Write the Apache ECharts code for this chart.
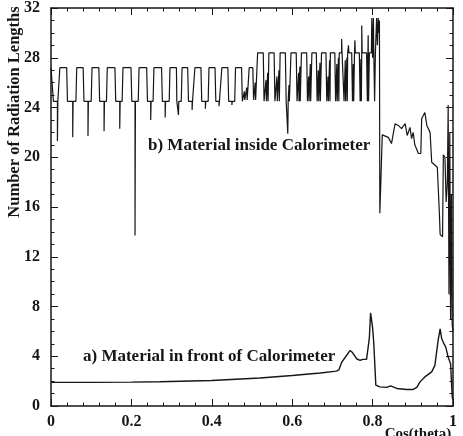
<!DOCTYPE html>
<html>
<head>
<meta charset="utf-8">
<script src="https://cdn.jsdelivr.net/npm/echarts@6/dist/echarts.min.js"></script>
<style>
  html, body { margin: 0; padding: 0; background: #fff; }
  #chart { width: 463px; height: 436px; }
</style>
</head>
<body>
<div id="chart"></div>
<script>
// tick labels
const xTickLabels = ['0', '0.2', '0.4', '0.6', '0.8', '1']
const yTickLabels = ['0', '4', '8', '12', '16', '20', '24', '28', '32']

// a) material in front of calorimeter  [cos(theta), X0]
const frontMaterial = [
  [0, 1.9], [0.1, 1.9], [0.2, 1.92], [0.27, 1.95], [0.4, 2.05], [0.52, 2.25],
  [0.6, 2.45], [0.67, 2.65], [0.71, 2.8], [0.716, 2.9], [0.723, 3.5], [0.736, 4.1],
  [0.744, 4.47], [0.750, 4.3], [0.760, 3.8], [0.769, 3.67], [0.775, 3.75], [0.779, 3.6],
  [0.785, 3.75], [0.789, 3.7], [0.792, 5.5], [0.795, 7.5], [0.800, 6.3], [0.803, 5.0],
  [0.808, 1.68], [0.818, 1.54], [0.835, 1.5], [0.845, 1.62], [0.860, 1.41], [0.885, 1.33],
  [0.901, 1.33], [0.910, 1.5], [0.918, 1.94], [0.930, 2.34], [0.947, 2.74], [0.955, 3.27],
  [0.963, 5.27], [0.968, 6.2], [0.972, 5.4], [0.976, 5.1], [0.982, 4.73], [0.988, 3.93],
  [0.994, 3.4], [0.998, 0.74], [1.0, 0.48]
]

// b) material inside calorimeter  [cos(theta), X0]
const insideMaterial = [
  [0.000, 27.2], [0.004, 27.2], [0.006, 24.5],
  [0.016, 24.5], [0.016, 21.3], [0.017, 24.5],
  [0.021, 24.5], [0.022, 27.2], [0.039, 27.2], [0.041, 24.5],
  [0.054, 24.5], [0.054, 21.6], [0.055, 24.5],
  [0.062, 24.5], [0.064, 27.2], [0.080, 27.2], [0.082, 24.5],
  [0.092, 24.5], [0.092, 21.7], [0.093, 24.5],
  [0.100, 24.5], [0.102, 27.2], [0.119, 27.2], [0.121, 24.5],
  [0.132, 24.5], [0.132, 22.1], [0.133, 24.5],
  [0.138, 24.5], [0.140, 27.2], [0.159, 27.2], [0.161, 24.5],
  [0.171, 24.5], [0.171, 22.3], [0.172, 24.5],
  [0.177, 24.5], [0.179, 27.2], [0.199, 27.2], [0.201, 24.5],
  [0.209, 24.5], [0.209, 13.7], [0.210, 24.5],
  [0.217, 24.5], [0.219, 27.2], [0.238, 27.2], [0.240, 24.5],
  [0.248, 24.5], [0.248, 23.0], [0.249, 24.5],
  [0.254, 24.5], [0.256, 27.2], [0.275, 27.2], [0.277, 24.5],
  [0.284, 24.5], [0.284, 23.2], [0.285, 24.5],
  [0.294, 24.5], [0.296, 27.2], [0.312, 27.2], [0.313, 24.5],
  [0.317, 24.5], [0.317, 23.4], [0.318, 24.5],
  [0.324, 24.5], [0.326, 27.2], [0.340, 27.2], [0.342, 24.5],
  [0.351, 24.5], [0.351, 23.8], [0.352, 24.5],
  [0.356, 24.5], [0.358, 27.2], [0.373, 27.2], [0.375, 24.5],
  [0.384, 24.5], [0.384, 23.9], [0.385, 24.5],
  [0.391, 24.5], [0.393, 27.2], [0.408, 27.2], [0.410, 24.5],
  [0.418, 24.5], [0.418, 24.1], [0.419, 24.5],
  [0.423, 24.5], [0.425, 27.2], [0.440, 27.2], [0.442, 24.5],
  [0.450, 24.5], [0.450, 24.2], [0.451, 24.5],
  [0.457, 24.5], [0.459, 27.2], [0.474, 27.2], [0.476, 24.5],
  [0.480, 24.5], [0.481, 25.3], [0.482, 24.6], [0.486, 24.6], [0.487, 25.6], [0.488, 24.6],
  [0.491, 24.6], [0.493, 27.2], [0.502, 27.2], [0.504, 24.6],
  [0.507, 24.6], [0.508, 26.0], [0.509, 24.6],
  [0.512, 24.5], [0.514, 28.4], [0.528, 28.4], [0.530, 24.5],
  [0.534, 24.5], [0.535, 26.2], [0.536, 24.5], [0.538, 24.5], [0.539, 26.8], [0.540, 24.5],
  [0.541, 24.5], [0.542, 28.4], [0.555, 28.4], [0.557, 24.5],
  [0.561, 24.5], [0.562, 26.5], [0.563, 24.5], [0.566, 24.5], [0.567, 27.0], [0.568, 24.5],
  [0.569, 24.5], [0.570, 28.4], [0.583, 28.4], [0.585, 24.5],
  [0.589, 24.5], [0.589, 21.9], [0.590, 24.5], [0.592, 25.8], [0.593, 24.5],
  [0.596, 24.5], [0.597, 28.4], [0.610, 28.4], [0.612, 24.5],
  [0.615, 24.5], [0.616, 26.8], [0.617, 24.5], [0.619, 27.3], [0.620, 24.5],
  [0.622, 24.5], [0.623, 28.4], [0.636, 28.4], [0.638, 24.5],
  [0.641, 26.5], [0.642, 24.5], [0.645, 27.5], [0.646, 24.5],
  [0.648, 24.5], [0.649, 28.4], [0.660, 28.4], [0.662, 24.5],
  [0.665, 27.0], [0.666, 24.5], [0.669, 27.6], [0.670, 24.5],
  [0.672, 24.5], [0.673, 28.4], [0.684, 28.4], [0.686, 24.5],
  [0.689, 26.5], [0.690, 24.5], [0.693, 27.8], [0.694, 24.5],
  [0.695, 28.4], [0.706, 28.4], [0.708, 24.5],
  [0.711, 27.5], [0.712, 24.5], [0.715, 28.0], [0.716, 24.5],
  [0.717, 28.4], [0.723, 28.4], [0.723, 29.5], [0.724, 28.4], [0.727, 28.4], [0.729, 24.5],
  [0.732, 27.8], [0.733, 24.5], [0.736, 28.0], [0.737, 24.5],
  [0.738, 28.4], [0.740, 28.4], [0.740, 29.0], [0.741, 28.4], [0.748, 28.4], [0.750, 24.5],
  [0.752, 27.5], [0.753, 24.5],
  [0.755, 28.4], [0.756, 29.4], [0.757, 28.4], [0.767, 28.4], [0.769, 24.5],
  [0.771, 27.9], [0.772, 24.5],
  [0.773, 28.4], [0.773, 30.6], [0.774, 28.4], [0.785, 28.4], [0.787, 24.5],
  [0.788, 27.5], [0.789, 29.8], [0.790, 24.5],
  [0.792, 28.4], [0.797, 28.4], [0.798, 31.2], [0.800, 28.0], [0.802, 31.2], [0.803, 28.4], [0.805, 24.5],
  [0.807, 28.4], [0.810, 31.2], [0.812, 29.0], [0.814, 31.2], [0.816, 30.0], [0.817, 31.0], [0.818, 15.5],
  [0.821, 18.5], [0.824, 21.8], [0.828, 21.75], [0.839, 21.6], [0.847, 21.1], [0.852, 22.0],
  [0.856, 22.7], [0.864, 22.56], [0.872, 22.3], [0.881, 22.7], [0.886, 21.75], [0.893, 22.4],
  [0.897, 21.5], [0.901, 22.0], [0.905, 21.0], [0.914, 20.3], [0.920, 20.3], [0.922, 23.1],
  [0.930, 23.6], [0.935, 22.56], [0.943, 22.0], [0.947, 19.6], [0.961, 19.2], [0.966, 15.6],
  [0.968, 13.8], [0.974, 13.6], [0.976, 20.2], [0.980, 20.0], [0.983, 16.4], [0.986, 18.0],
  [0.988, 24.2], [0.990, 9.0], [0.992, 22.0], [0.994, 7.0], [0.996, 17.0], [0.998, 6.5], [1.0, 6.0]
]

const serif = '"Liberation Serif", "DejaVu Serif", serif'
const ink = '#161616'

const chart = echarts.init(document.getElementById('chart'))

function frameAxis(pos, isX, showLabels) {
  return {
    type: 'value',
    position: pos,
    min: 0,
    max: isX ? 1 : 32,
    interval: isX ? 0.2 : 4,
    axisLine: { show: true, onZero: false, lineStyle: { color: ink, width: 1.5 } },
    axisTick: { show: true, inside: true, length: 7, lineStyle: { color: ink, width: 1 } },
    minorTick: { show: true, splitNumber: isX ? 5 : 4, length: 3.5, lineStyle: { color: ink, width: 1 } },
    splitLine: { show: false },
    axisLabel: {
      show: showLabels,
      margin: isX ? 8 : 11,
      color: ink,
      fontFamily: serif,
      fontWeight: 'bold',
      fontSize: 16,
      formatter: isX
        ? (v) => xTickLabels[Math.round(v / 0.2)]
        : (v) => yTickLabels[Math.round(v / 4)],
    },
  }
}

const option = {
  animation: false,
  backgroundColor: '#fff',
  grid: { left: 51, top: 5, width: 402, height: 401 },
  xAxis: [frameAxis('bottom', true, true), frameAxis('top', true, false)],
  yAxis: [frameAxis('left', false, true), frameAxis('right', false, false)],
  series: [
    {
      name: 'a) Material in front of Calorimeter',
      type: 'line',
      data: frontMaterial,
      showSymbol: false,
      lineStyle: { color: ink, width: 1.4 },
    },
    {
      name: 'b) Material inside Calorimeter',
      type: 'line',
      data: insideMaterial,
      showSymbol: false,
      lineStyle: { color: ink, width: 1.2 },
    },
  ],
  graphic: [
    {
      type: 'text', x: 15, y: 112, rotation: Math.PI / 2,
      style: { text: 'Number of Radiation Lengths', align: 'center', verticalAlign: 'middle',
        font: 'bold 16.5px ' + serif, fill: ink },
    },
    {
      type: 'text', x: 148, y: 146,
      style: { text: 'b) Material inside Calorimeter', align: 'left', verticalAlign: 'middle',
        font: 'bold 17px ' + serif, fill: ink },
    },
    {
      type: 'text', x: 83, y: 357,
      style: { text: 'a) Material in front of Calorimeter', align: 'left', verticalAlign: 'middle',
        font: 'bold 17px ' + serif, fill: ink },
    },
    {
      type: 'text', x: 418, y: 434,
      style: { text: 'Cos(theta)', align: 'center', verticalAlign: 'middle',
        font: 'bold 15px ' + serif, fill: ink },
    },
  ],
}

chart.setOption(option)
</script>
</body>
</html>
